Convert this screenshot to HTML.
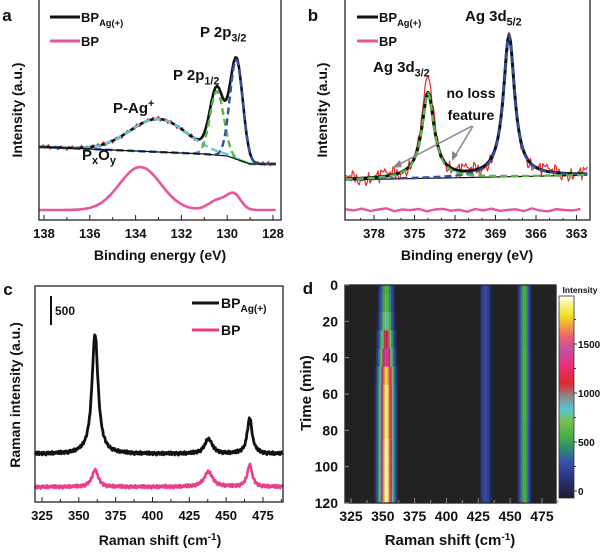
<!DOCTYPE html>
<html><head><meta charset="utf-8"><style>
html,body{margin:0;padding:0;background:#fff}
svg{display:block;font-family:"Liberation Sans",Arial,sans-serif;font-weight:bold}
</style></head><body>
<svg id="fig" width="600" height="553" viewBox="0 0 600 553" xmlns="http://www.w3.org/2000/svg">
<g id="pa"></g>
<g id="pb"></g>
<g id="pc"></g>
<g id="pd"></g>
</svg>
<script>
// ---------- DATA ----------
// panel a: [center eV, height, sigma]
const aBgE=[138.3,138,135,132,131,130,129.5,129,127.7];
const aBgV=[73,73,70,67,66,64,60,56,56];
const aPeakPAg=[133.0,33,1.25];
const aPeak2p12=[130.45,64,0.3];
const aPeak2p32=[129.6,100,0.28];
const aBPBase=10;
const aBPPeaks=[[133.8,43,0.9],[130.4,10,0.4],[129.7,15,0.3]];
const aTicks=[138,136,134,132,130,128];
// panel b: [center eV, height, hwhm]
const bBgE=[380.5,361.5];
const bBgV=[40,45];
const bPeak32=[374.0,85,0.55];
const bPeak52=[368.0,141,0.5];
const bNoise=[6,-4,12,-8,3,14,-10,5,-2,9,-12,4,10,-6,2,-14,8,-3,11,-7,1,6,-9,13,-5,-11,7,0,-4,9];
const bTicks=[378,375,372,369,366,363];
// panel c: [center cm-1, height, hwhm]
const cBlackBase=48;
const cBlackPeaks=[[361,120,2.5],[438,15,3],[466,36,2]];
const cPinkBase=15;
const cPinkPeaks=[[361,17,2.5],[438,15,3.5],[466,22,2]];
const cTicks=[325,350,375,400,425,450,475];
// panel d
const dTimes=[0,10,20,30,40,50,60,70,80,90,100,110,120];
const dBand1=[600,650,800,1150,1400,1800,1900,1900,1900,1950,1950,1950,1950];
const dBand2=[260,260,260,260,260,260,260,260,260,260,260,260,260];
const dBand3=[600,600,600,600,620,620,620,620,600,600,600,600,600];
const dCenters=[352.5,430.5,461];
const dTicksX=[325,350,375,400,425,450,475];
const dTicksY=[0,20,40,60,80,100,120];
const cbTicks=[0,500,1000,1500];

const NS="http://www.w3.org/2000/svg";
function mk(tag,attrs,parent,name){const e=document.createElementNS(NS,tag);for(const k in attrs)e.setAttribute(k,attrs[k]);


parent.appendChild(e);return e;}
function txt(parent,x,y,s,size,name,anchor){const t=mk('text',{x:x,y:y,'font-size':size,'text-anchor':anchor||'middle',fill:'#111'},parent,name);t.textContent=s;return t;}
function sub(parent,x,y,main,subs,size,name,anchor,sup){const t=mk('text',{x:x,y:y,'font-size':size,'text-anchor':anchor||'start',fill:'#111'},parent,name);
t.appendChild(document.createTextNode(main));const ts=document.createElementNS(NS,'tspan');ts.setAttribute('font-size',size*0.72);ts.setAttribute('dy',sup?-size*0.4:size*0.3);ts.textContent=subs;t.appendChild(ts);return t;}
function gauss(x,p){return p[1]*Math.exp(-((x-p[0])**2)/(2*p[2]*p[2]));}
function lor(x,p){return p[1]/(1+((x-p[0])/p[2])**2);}
function interp(x,xs,ys){for(let i=0;i<xs.length-1;i++){const a=xs[i],b=xs[i+1];if((x<=a&&x>=b)||(x>=a&&x<=b)){return ys[i]+(ys[i+1]-ys[i])*(x-a)/(b-a);}}
 return Math.abs(x-xs[0])<Math.abs(x-xs[xs.length-1])?ys[0]:ys[ys.length-1];}
function path(parent,pts,st,name){let d='';pts.forEach((p,i)=>d+=(i?'L':'M')+p[0].toFixed(1)+' '+p[1].toFixed(1));return mk('path',Object.assign({d:d,fill:'none','stroke-linejoin':'round'},st),parent,name);}

// ---------- PANEL A ----------
(function(){const g=document.getElementById('pa');
const X=e=>44+(138-e)*22.9, Y=v=>220-v;
const es=[];for(let e=138.2;e>=127.8;e-=0.08)es.push(e);
const bg=e=>interp(e,aBgE,aBgV);
const tot=e=>bg(e)+gauss(e,aPeakPAg)+gauss(e,aPeak2p12)+gauss(e,aPeak2p32);
path(g,es.map((e,i)=>[X(e),Y(tot(e)+bNoise[i%30]*0.18)]),{stroke:'#e8282a','stroke-width':1.3},'raw-data-line');
path(g,es.map(e=>[X(e),Y(tot(e))]),{stroke:'#111','stroke-width':2.6},'bp-ag-fit-line');
path(g,es.map(e=>[X(e),Y(bg(e)+gauss(e,aPeakPAg))]),{stroke:'#5fc8dc','stroke-width':2.4,'stroke-dasharray':'7 4'},'p-ag-component');
path(g,es.map(e=>[X(e),Y(bg(e)+gauss(e,aPeak2p12))]),{stroke:'#5ab845','stroke-width':2.4,'stroke-dasharray':'7 4'},'p2p12-component');
path(g,es.map(e=>[X(e),Y(bg(e)+gauss(e,aPeak2p32))]),{stroke:'#3350a8','stroke-width':2.4,'stroke-dasharray':'7 4'},'p2p32-component');
path(g,es.map(e=>[X(e),Y(bg(e))]),{stroke:'#111','stroke-width':1.2},'background-line');
path(g,es.map(e=>[X(e),Y(aBPBase+aBPPeaks.reduce((s,p)=>s+gauss(e,p),0))]),{stroke:'#e8559c','stroke-width':2.6},'bp-line');
mk('rect',{x:39,y:-2,width:242,height:222,fill:'none',stroke:'#222','stroke-width':1.3},g,'plot-frame');
aTicks.forEach(t=>{mk('line',{x1:X(t),x2:X(t),y1:220,y2:215,stroke:'#222'},g,'x-tick');txt(g,X(t),238,t,13,'x-tick-label');});
[137,135,133,131,129].forEach(t=>mk('line',{x1:X(t),x2:X(t),y1:220,y2:217,stroke:'#222'},g,'x-minor-tick'));
txt(g,160,260,'Binding energy (eV)',14,'x-axis-title');
const yl=txt(g,0,0,'Intensity (a.u.)',14,'y-axis-title');yl.setAttribute('transform','translate(22,110) rotate(-90)');
txt(g,7,21,'a',17,'panel-label');
mk('line',{x1:50,x2:80,y1:17,y2:17,stroke:'#111','stroke-width':3},g,'legend-swatch-bpag');
sub(g,81,22,'BP','Ag(+)',13,'legend-label-bpag');
mk('line',{x1:50,x2:80,y1:41,y2:41,stroke:'#e8559c','stroke-width':3},g,'legend-swatch-bp');
txt(g,81,46,'BP',13,'legend-label-bp','start');
sub(g,200,37,'P 2p','3/2',15,'p2p32-label');
sub(g,173,80,'P 2p','1/2',15,'p2p12-label');
sub(g,113,113,'P-Ag','+',15,'p-ag-label','start',true);
const po=mk('text',{x:82,y:160,'font-size':15,fill:'#111'},g,'pxoy-label');
po.innerHTML='P<tspan font-size="11" dy="4">x</tspan><tspan dy="-4">O</tspan><tspan font-size="11" dy="4">y</tspan>';
})();

// ---------- PANEL B ----------
(function(){const g=document.getElementById('pb');
const X=e=>374+(378-e)*13.5, Y=v=>220-v;
const es=[];for(let e=380.1;e>=362.1;e-=0.1)es.push(e);
const bg=e=>interp(e,bBgE,bBgV);
const tot=e=>bg(e)+lor(e,bPeak32)+lor(e,bPeak52);
path(g,es.map((e,i)=>[X(e),Y(tot(e)+bNoise[(i*7)%30]*0.55+lor(e,[374,14,0.4]))]),{stroke:'#e8282a','stroke-width':1.2},'raw-data-line');
path(g,es.map(e=>[X(e),Y(bg(e))]),{stroke:'#111','stroke-width':1.2},'background-line');
path(g,es.map(e=>[X(e),Y(tot(e))]),{stroke:'#111','stroke-width':3},'bp-ag-fit-line');
path(g,es.map(e=>[X(e),Y(bg(e)+lor(e,bPeak52))]),{stroke:'#3350a8','stroke-width':2.4,'stroke-dasharray':'7 4'},'ag3d52-component');
path(g,es.map(e=>[X(e),Y(bg(e)+lor(e,bPeak32))]),{stroke:'#5ab845','stroke-width':2.4,'stroke-dasharray':'7 4'},'ag3d32-component');
const bpE=[];for(let e=380.1;e>=362.1;e-=0.6)bpE.push(e);
path(g,bpE.map((e,i)=>[X(e),Y(10+bNoise[i%30]*0.12)]),{stroke:'#e8559c','stroke-width':2.4},'bp-line');
mk('rect',{x:345,y:-2,width:245,height:222,fill:'none',stroke:'#222','stroke-width':1.3},g,'plot-frame');
bTicks.forEach(t=>{mk('line',{x1:X(t),x2:X(t),y1:220,y2:215,stroke:'#222'},g,'x-tick');txt(g,X(t),238,t,13,'x-tick-label');});
for(let t=379;t>=362;t--)mk('line',{x1:X(t),x2:X(t),y1:220,y2:218,stroke:'#222'},g,'x-minor-tick');
txt(g,467,260,'Binding energy (eV)',14,'x-axis-title');
const yl=txt(g,0,0,'Intensity (a.u.)',14,'y-axis-title');yl.setAttribute('transform','translate(327,110) rotate(-90)');
txt(g,313,21,'b',17,'panel-label');
mk('line',{x1:357,x2:378,y1:17,y2:17,stroke:'#111','stroke-width':3},g,'legend-swatch-bpag');
sub(g,379,22,'BP','Ag(+)',13,'legend-label-bpag');
mk('line',{x1:357,x2:378,y1:41,y2:41,stroke:'#e8559c','stroke-width':3},g,'legend-swatch-bp');
txt(g,379,46,'BP',13,'legend-label-bp','start');
sub(g,465,21,'Ag 3d','5/2',15,'ag3d52-label');
sub(g,373,72,'Ag 3d','3/2',15,'ag3d32-label');
txt(g,471,98,'no loss',14,'annotation-no-loss');
txt(g,471,120,'feature',14,'annotation-feature');
mk('line',{x1:472,x2:396,y1:126,y2:166,stroke:'#888','stroke-width':1.5},g,'annotation-arrow-1');
mk('path',{d:'M392 168 L400 160 L402 167 Z',fill:'#888'},g,'arrowhead-1');
mk('line',{x1:473,x2:455,y1:126,y2:156,stroke:'#888','stroke-width':1.5},g,'annotation-arrow-2');
mk('path',{d:'M452 161 L452 151 L458 155 Z',fill:'#888'},g,'arrowhead-2');
})();

// ---------- PANEL C ----------
(function(){const g=document.getElementById('pc');
const X=r=>42+(r-325)*1.473, Y=v=>502-v;
const rs=[];for(let r=320.2;r<=488.6;r+=0.5)rs.push(r);
path(g,rs.map((r,i)=>[X(r),Y(cBlackBase+cBlackPeaks.reduce((s,p)=>s+lor(r,p),0)+bNoise[i%30]*0.12)]),{stroke:'#111','stroke-width':2.8},'bp-ag-raman-line');
path(g,rs.map((r,i)=>[X(r),Y(cPinkBase+cPinkPeaks.reduce((s,p)=>s+lor(r,p),0)+bNoise[(i+7)%30]*0.12)]),{stroke:'#e83e8c','stroke-width':2.6},'bp-raman-line');
mk('rect',{x:35,y:286,width:248,height:216,fill:'none',stroke:'#222','stroke-width':1.3},g,'plot-frame');
cTicks.forEach(t=>{mk('line',{x1:X(t),x2:X(t),y1:502,y2:497,stroke:'#222'},g,'x-tick');txt(g,X(t),520,t,13,'x-tick-label');});
cTicks.forEach(t=>mk('line',{x1:X(t+12.5),x2:X(t+12.5),y1:502,y2:499,stroke:'#222'},g,'x-minor-tick'));
const xl=mk('text',{x:160,y:545,'font-size':14,'text-anchor':'middle',fill:'#111'},g,'x-axis-title');
xl.innerHTML='Raman shift (cm<tspan font-size="10" dy="-5">-1</tspan><tspan dy="5">)</tspan>';
const yl=txt(g,0,0,'Raman intensity (a.u.)',14,'y-axis-title');yl.setAttribute('transform','translate(20,395) rotate(-90)');
txt(g,8,295,'c',17,'panel-label');
mk('line',{x1:51,x2:51,y1:296,y2:325,stroke:'#111','stroke-width':2},g,'scale-bar');
txt(g,55,315,'500',12,'scale-bar-label','start');
mk('line',{x1:192,x2:219,y1:303,y2:303,stroke:'#111','stroke-width':3},g,'legend-swatch-bpag');
sub(g,221,308,'BP','Ag(+)',14,'legend-label-bpag');
mk('line',{x1:192,x2:219,y1:330,y2:330,stroke:'#e83e8c','stroke-width':3},g,'legend-swatch-bp');
txt(g,221,335,'BP',14,'legend-label-bp','start');
})();

// ---------- PANEL D ----------
(function(){const g=document.getElementById('pd');
const X=r=>351+(r-325)*1.273, Y=t=>285+t*1.8167;
const stops=[[-80,'#1c1c2c'],[100,'#2a2f72'],[300,'#3a52b2'],[420,'#2a8a70'],[550,'#44b044'],[700,'#78c050'],[820,'#55c8d4'],[950,'#8a8a8a'],[1080,'#e02830'],[1280,'#e83080'],[1420,'#c050a0'],[1550,'#f06070'],[1660,'#f0a040'],[1770,'#f2e21e'],[1960,'#fffff2']];
function hex(c){return [1,3,5].map(i=>parseInt(c.substr(i,2),16));}
function cmap(v){if(v<40)return '#222222';for(let i=0;i<stops.length-1;i++){if(v<=stops[i+1][0]){const a=hex(stops[i][1]),b=hex(stops[i+1][1]);const f=Math.max(0,(v-stops[i][0])/(stops[i+1][0]-stops[i][0]));
const mix=a.map((x,k)=>Math.round(x+(b[k]-x)*f));if(v<150){const bgc=[34,34,34],w=(v-40)/110;return 'rgb('+mix.map((x,k)=>Math.round(bgc[k]+(x-bgc[k])*w)).join(',')+')';}return 'rgb('+mix.join(',')+')';}}return '#fffff2';}
mk('rect',{x:345,y:285,width:211,height:218,fill:'#222222'},g,'heatmap-background');
const hm=mk('g',{},g,'heatmap');
const sig=[3.2,3.0,2.8];
dTimes.forEach((t,i)=>{
  const t0=Math.max(0,t-5),t1=Math.min(120,t+5);
  const amps=[dBand1[i],dBand2[i],dBand3[i]];
  for(let r=320.5;r<486;r+=0.5){
    let v=0;amps.forEach((a,k)=>{v+=gauss(r,[dCenters[k],a,sig[k]*(k==0?1+0.15*Math.min(1,a/1900):1)]);});
    if(v<40)continue;
    const c=mk('rect',{x:X(r).toFixed(2),y:Y(t0).toFixed(2),width:0.75,height:(Y(t1)-Y(t0)+0.4).toFixed(2),fill:cmap(v)},hm,'heatmap-cell');
  }
});
mk('rect',{x:345,y:285,width:211,height:218,fill:'none',stroke:'#222','stroke-width':1.3},g,'plot-frame');
dTicksX.forEach(t=>{mk('line',{x1:X(t),x2:X(t),y1:503,y2:498,stroke:'#888'},g,'x-tick');txt(g,X(t),521,t,14,'x-tick-label');});
dTicksX.forEach(t=>mk('line',{x1:X(t+12.5),x2:X(t+12.5),y1:503,y2:500,stroke:'#888'},g,'x-minor-tick'));
dTicksY.forEach(t=>{mk('line',{x1:345,x2:349,y1:Y(t),y2:Y(t),stroke:'#888'},g,'y-tick');txt(g,338,Y(t)+5,t,14,'y-tick-label','end');});
const xl=mk('text',{x:450,y:545,'font-size':15,'text-anchor':'middle',fill:'#111'},g,'x-axis-title');
xl.innerHTML='Raman shift (cm<tspan font-size="10" dy="-5">-1</tspan><tspan dy="5">)</tspan>';
const yl=txt(g,0,0,'Time (min)',15,'y-axis-title');yl.setAttribute('transform','translate(311,393) rotate(-90)');
txt(g,308,294,'d',17,'panel-label');
const CY=v=>491-v*0.098;
const defs=mk('defs',{},g,'defs');const lg=mk('linearGradient',{id:'cbg',x1:0,y1:1,x2:0,y2:0},defs,'colorbar-gradient');
stops.forEach(s=>{const st=mk('stop',{offset:((CY(-70)-CY(Math.max(-70,s[0])))/(CY(-70)-CY(1960))).toFixed(3),'stop-color':s[1]},lg,'gradient-stop');});
mk('rect',{x:559,y:296,width:15,height:202,fill:'url(#cbg)',stroke:'#333','stroke-width':0.8},g,'colorbar');
txt(g,580,293,'Intensity',8.5,'colorbar-title');
cbTicks.forEach(t=>{mk('line',{x1:574,x2:577,y1:CY(t),y2:CY(t),stroke:'#333'},g,'colorbar-tick');txt(g,578,CY(t)+4,t,10,'colorbar-tick-label','start');});
[250,750,1250,1750].forEach(t=>mk('line',{x1:574,x2:576,y1:CY(t),y2:CY(t),stroke:'#333'},g,'colorbar-minor-tick'));
})();
</script>
</body></html>
